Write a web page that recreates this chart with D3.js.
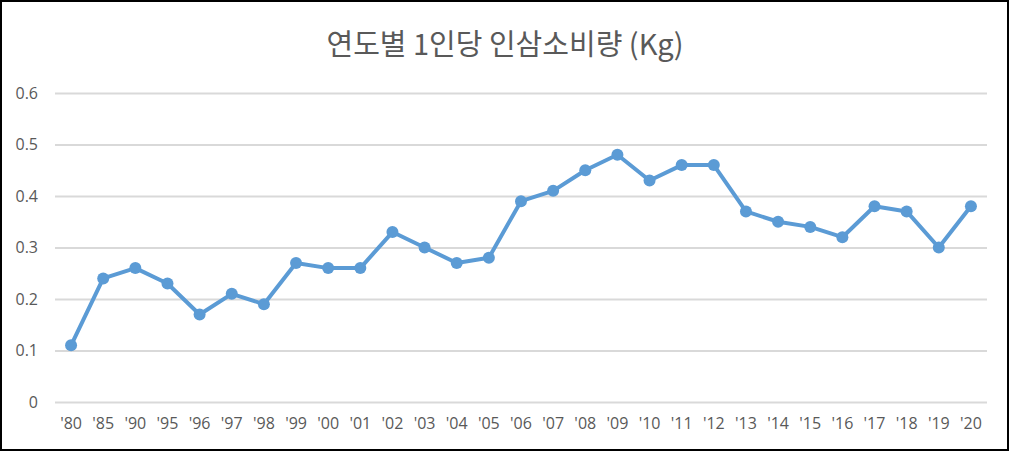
<!DOCTYPE html>
<html><head><meta charset="utf-8">
<script src="https://cdn.jsdelivr.net/npm/d3@7"></script>
<style>html,body{margin:0;padding:0;background:#fff;}svg{display:block;}</style>
</head><body>
<svg id="chart" width="1011" height="451"></svg>
<script>
const categories = ["'80","'85","'90","'95","'96","'97","'98","'99","'00","'01","'02","'03","'04","'05","'06","'07","'08","'09","'10","'11","'12","'13","'14","'15","'16","'17","'18","'19","'20"];
const values = [0.11,0.24,0.26,0.23,0.17,0.21,0.19,0.27,0.26,0.26,0.33,0.30,0.27,0.28,0.39,0.41,0.45,0.48,0.43,0.46,0.46,0.37,0.35,0.34,0.32,0.38,0.37,0.30,0.38];
const yTicks = [0,0.1,0.2,0.3,0.4,0.5,0.6];
const title = "연도별 1인당 인삼소비량 (Kg)";

(function(){
const svg = d3.select("#chart");
const W = 1011, H = 451;
const pLeft = 55, pRight = 987, pTop = 93, pBottom = 402;
const textColor = "#595959";
const font = "'Open Sans', 'Noto Sans', sans-serif";

svg.append("rect").attr("x",0).attr("y",0).attr("width",W).attr("height",H).attr("fill","#fff");

const x = d3.scaleBand().domain(categories).range([pLeft,pRight]);
const y = d3.scaleLinear().domain([0,0.6]).range([pBottom,pTop]);

const yAxis = d3.axisLeft(y).tickValues(yTicks).tickSize(-(pRight-pLeft)).tickPadding(17)
  .tickFormat(d => d === 0 ? "0" : d3.format(".1f")(d));
const gy = svg.append("g").attr("transform",`translate(${pLeft},0)`).call(yAxis);
gy.select(".domain").remove();
gy.selectAll(".tick line").attr("stroke","#d9d9d9").attr("stroke-width",2);
gy.selectAll(".tick text").attr("fill",textColor).style("font-family",font).style("font-size","16px");

const xAxis = d3.axisBottom(x).tickSize(0).tickPadding(16);
const gx = svg.append("g").attr("transform",`translate(0,${pBottom})`).call(xAxis);
gx.select(".domain").remove();
gx.selectAll(".tick text").attr("fill",textColor).style("font-family",font).style("font-size","16px");

const cx = d => x(d) + x.bandwidth()/2;
const line = d3.line().x((d,i)=>cx(categories[i])).y(d=>y(d));
svg.append("path").datum(values).attr("d",line).attr("fill","none")
  .attr("stroke","#5b9bd5").attr("stroke-width",4).attr("stroke-linejoin","round");
svg.append("g").selectAll("circle").data(values).join("circle")
  .attr("cx",(d,i)=>cx(categories[i])).attr("cy",d=>y(d)).attr("r",6).attr("fill","#5b9bd5");

svg.append("text").attr("x",505).attr("y",55).attr("text-anchor","middle")
  .attr("fill",textColor).style("font-family","'Noto Sans CJK KR', sans-serif").style("font-size","29px")
  .text(title);

svg.append("rect").attr("x",1).attr("y",1).attr("width",1007).attr("height",449)
  .attr("fill","none").attr("stroke","#000").attr("stroke-width",2);
})();
</script>
</body></html>
